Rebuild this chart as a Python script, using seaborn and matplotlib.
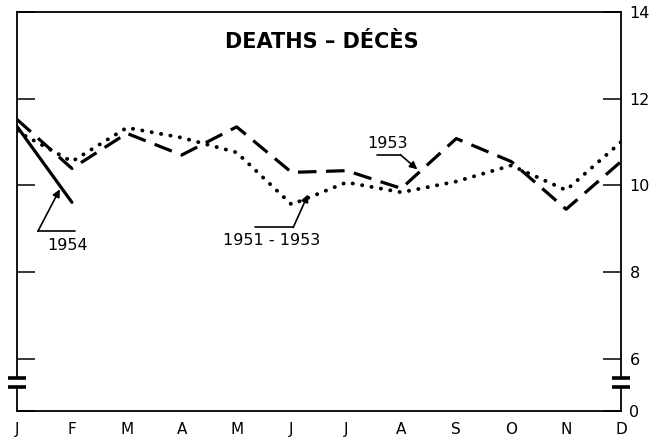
import matplotlib
matplotlib.use("Agg")
import matplotlib.pyplot as plt
import seaborn as sns
import pandas as pd

months = ["J", "F", "M", "A", "M", "J", "J", "A", "S", "O", "N", "D"]
deaths_1953 = [11.52, 10.39, 11.20, 10.70, 11.35, 10.30, 10.34, 9.93, 11.08, 10.55, 9.45, 10.55]
deaths_1951_1953 = [11.25, 10.55, 11.33, 11.10, 10.76, 9.56, 10.07, 9.84, 10.09, 10.46, 9.89, 11.00]
deaths_1954 = [11.36, 9.61]
ytick_values = [6, 8, 10, 12, 14]
ytick_labels = ["6", "8", "10", "12", "14"]
title = "DEATHS – DÉCÈS"

sns.set_style("white")
plt.rcParams["font.family"] = ["DejaVu Sans"]
plt.rcParams["text.color"] = "black"
plt.rcParams["xtick.color"] = "black"
plt.rcParams["ytick.color"] = "black"
plt.rcParams["axes.labelcolor"] = "black"

fig = plt.figure(figsize=(6.66, 4.40), dpi=100)
ax = fig.add_axes([0.0255, 0.066, 0.907, 0.907])

x_all = list(range(len(months)))
df53 = pd.DataFrame({"m": x_all, "v": deaths_1953})
dfavg = pd.DataFrame({"m": x_all, "v": deaths_1951_1953})
df54 = pd.DataFrame({"m": list(range(len(deaths_1954))), "v": deaths_1954})

sns.lineplot(data=df53, x="m", y="v", ax=ax, color="black", lw=2.3)
ax.lines[-1].set_dashes((5.8, 3.0))
ax.lines[-1].set_dash_capstyle("butt")
sns.lineplot(data=dfavg, x="m", y="v", ax=ax, color="black", lw=2.8)
ax.lines[-1].set_dashes((0.05, 2.4))
ax.lines[-1].set_dash_capstyle("round")
sns.lineplot(data=df54, x="m", y="v", ax=ax, color="black", lw=2.3)

ylo, yhi = 4.8, 14.0
ax.set_xlim(0, 11)
ax.set_ylim(ylo, yhi)
ax.set_xlabel("")
ax.set_ylabel("")

ax.set_xticks(x_all)
ax.set_xticklabels(months, fontsize=11)
ax.set_yticks([ylo] + ytick_values)
ax.set_yticklabels(["0"] + ytick_labels, fontsize=11.5)
ax.tick_params(axis="x", direction="in", length=12, width=1.1, pad=8, colors="black")
ax.tick_params(axis="y", direction="in", length=13, width=1.1, left=True, right=True,
               labelleft=False, labelright=True, pad=6, colors="black")

for s in ["left", "right", "top", "bottom"]:
    ax.spines[s].set_color("black")
    ax.spines[s].set_linewidth(1.3)
    ax.spines[s].set_visible(True)

# axis break
b_hi, b_lo = 5.55, 5.35
ax.spines["left"].set_bounds(b_hi, yhi)
ax.spines["right"].set_bounds(b_hi, yhi)
for xx in (0, 11):
    ax.plot([xx, xx], [ylo, b_lo], color="black", lw=1.3, clip_on=False)
    for yy in (b_hi, b_lo):
        ax.plot([xx - 0.17, xx + 0.17], [yy, yy], color="black", lw=2.6,
                clip_on=False, solid_capstyle="butt")

ax.text(5.55, 13.3, title, ha="center", va="center", fontsize=15, fontweight="bold",
        color="black")

arrow = dict(arrowstyle="-|>", lw=1.2, color="black", mutation_scale=11, shrinkA=0, shrinkB=0)
# 1954
ax.plot([0.38, 1.06], [8.94, 8.94], color="black", lw=1.2)
ax.annotate("", xy=(0.78, 9.91), xytext=(0.38, 8.94), arrowprops=arrow)
ax.text(0.93, 8.62, "1954", ha="center", va="center", fontsize=11.5, color="black")
# 1951-1953
ax.plot([4.34, 5.03], [9.03, 9.03], color="black", lw=1.2)
ax.annotate("", xy=(5.30, 9.79), xytext=(5.03, 9.03), arrowprops=arrow)
ax.text(4.64, 8.74, "1951 - 1953", ha="center", va="center", fontsize=11.5, color="black")
# 1953
ax.plot([6.56, 6.98], [10.71, 10.71], color="black", lw=1.2)
ax.annotate("", xy=(7.29, 10.37), xytext=(6.98, 10.71), arrowprops=arrow)
ax.text(6.74, 10.96, "1953", ha="center", va="center", fontsize=11.5, color="black")

fig.savefig("out.png", dpi=100)
